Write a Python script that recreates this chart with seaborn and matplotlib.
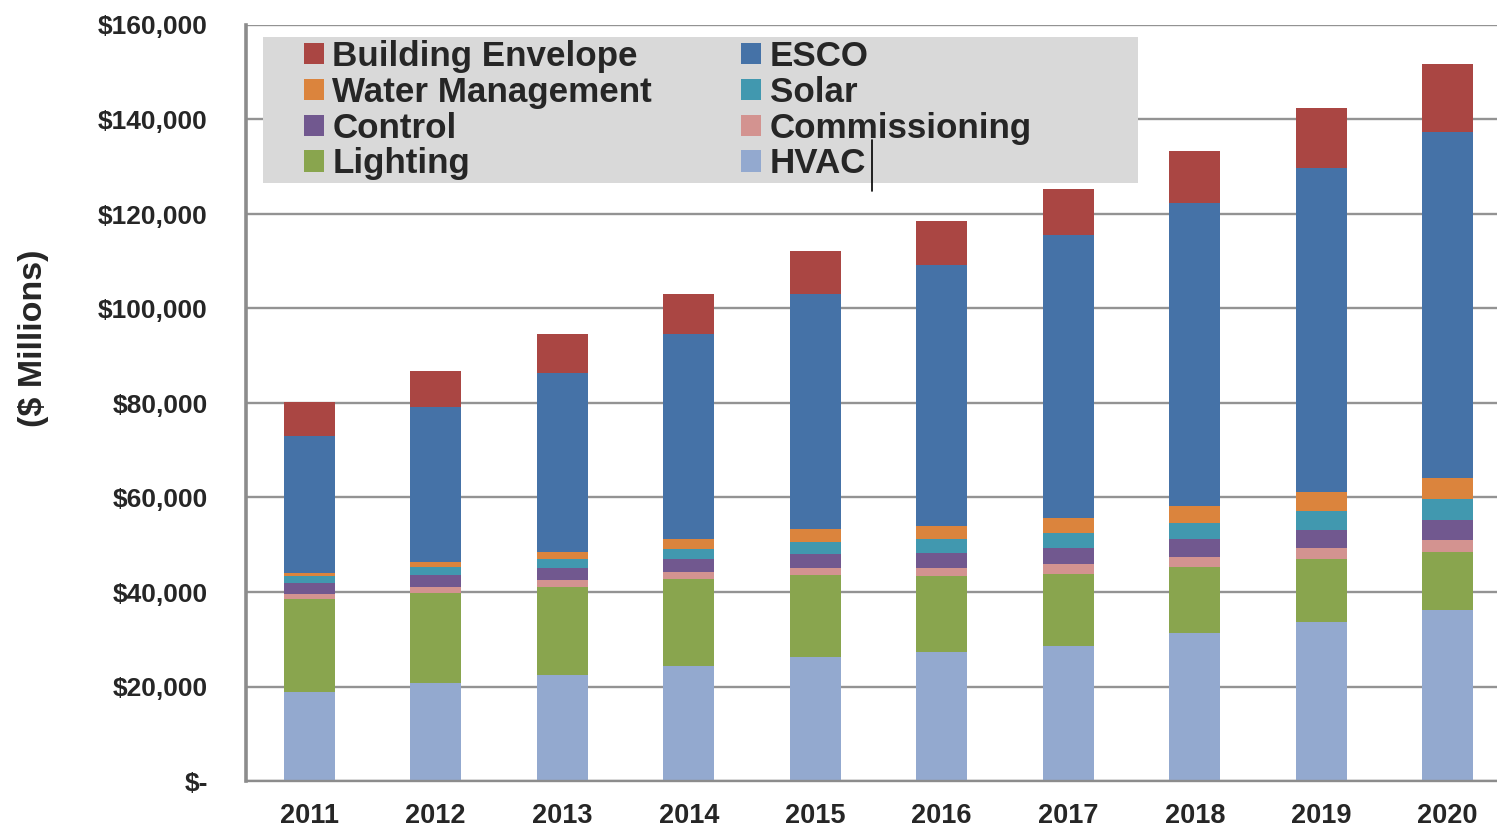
import matplotlib
matplotlib.use("Agg")
import matplotlib.pyplot as plt
import seaborn as sns
import pandas as pd
from matplotlib.patches import Rectangle, Patch
from matplotlib.lines import Line2D
from matplotlib.font_manager import FontProperties

# ---------------- data ----------------
years = ["2011", "2012", "2013", "2014", "2015", "2016", "2017", "2018", "2019", "2020"]
hvac = [18900, 20800, 22430, 24410, 26300, 27320, 28660, 31380, 33550, 36110]
lighting = [19550, 19040, 18690, 18270, 17200, 16100, 15110, 13870, 13520, 12430]
commissioning = [1100, 1150, 1410, 1540, 1490, 1730, 2060, 2070, 2170, 2470]
control = [2250, 2540, 2540, 2820, 3070, 3140, 3470, 3800, 3840, 4250]
solar = [1600, 1690, 1840, 2120, 2590, 2900, 3220, 3550, 4050, 4440]
water_management = [700, 1060, 1610, 1980, 2590, 2750, 3060, 3550, 3950, 4340]
esco = [28900, 32790, 37750, 43380, 49780, 55200, 59870, 64080, 68570, 73310]
building_envelope = [7130, 7680, 8250, 8530, 9110, 9430, 9910, 11000, 12730, 14310]

y_ticks = [0, 20000, 40000, 60000, 80000, 100000, 120000, 140000, 160000]
y_tick_labels = ["$-", "$20,000", "$40,000", "$60,000", "$80,000", "$100,000",
                 "$120,000", "$140,000", "$160,000"]
y_label = "($ Millions)"

# stack order bottom -> top
series = [
    ("HVAC", hvac, "#93A9CF"),
    ("Lighting", lighting, "#89A54E"),
    ("Commissioning", commissioning, "#D39390"),
    ("Control", control, "#71588F"),
    ("Solar", solar, "#4198AF"),
    ("Water Management", water_management, "#DB843D"),
    ("ESCO", esco, "#4572A7"),
    ("Building Envelope", building_envelope, "#AA4643"),
]
legend_order = ["Building Envelope", "Water Management", "Control", "Lighting",
                "ESCO", "Solar", "Commissioning", "HVAC"]

# ---------------- style ----------------
sns.set_style("white")
plt.rcParams["font.family"] = ["Liberation Sans", "DejaVu Sans"]
plt.rcParams["font.weight"] = "bold"

W, H = 1497, 830
fig = plt.figure(figsize=(W / 100, H / 100), dpi=100)
fig.patch.set_facecolor("white")
ax = fig.add_axes([246 / W, 49 / H, (W - 246) / W, (781 - 25) / H])
ax.set_facecolor("white")

df = pd.DataFrame({"Year": years})
running = [0] * len(years)
cum_cols = []
for name, vals, color in series:
    running = [a + b for a, b in zip(running, vals)]
    df[name] = running
    cum_cols.append((name, color))

# draw cumulative totals from top layer down so each lower layer overlays
for name, color in reversed(cum_cols):
    sns.barplot(data=df, x="Year", y=name, order=years, color=color,
                width=0.4, saturation=1, errorbar=None, linewidth=0,
                ax=ax, zorder=2)

n = len(years)
ax.set_xlim(-0.5, -0.5 + (W - 246) / 126.5)
ax.set_ylim(0, 160000)

ax.set_yticks(y_ticks)
ax.set_yticklabels(y_tick_labels, fontsize=19, fontweight="bold")
ax.set_xticks(range(n))
ax.set_xticklabels(years, fontsize=19.5, fontweight="bold")
ax.set_xticks([i - 0.5 for i in range(n)], minor=True)
ax.tick_params(axis="x", which="major", length=0, pad=16)
ax.tick_params(axis="x", which="minor", length=7, width=1.5, color="#8c8c8c", direction="out")
ax.tick_params(axis="y", which="major", length=7.5, width=1.5, color="#8c8c8c",
               direction="out", pad=20)

ax.set_axisbelow(True)
ax.yaxis.grid(True, color="#939393", linewidth=1.7)
ax.xaxis.grid(False)
for s in ["top", "right"]:
    ax.spines[s].set_visible(False)
ax.spines["left"].set_color("#8c8c8c")
ax.spines["left"].set_linewidth(2.6)
ax.spines["bottom"].set_color("#8c8c8c")
ax.spines["bottom"].set_linewidth(1.7)

ax.set_xlabel("")
ax.set_ylabel(y_label, fontsize=24.5, fontweight="bold", va="center")
ax.yaxis.set_label_coords((34 - 246) / (W - 246), (781 - 338) / (781 - 25))

# legend background box
box = Rectangle((263 / W, (H - 183) / H), (1138 - 263) / W, (183 - 37) / H,
                transform=fig.transFigure, facecolor="#D9D9D9", edgecolor="none",
                zorder=4, clip_on=False)
ax.add_patch(box)

color_map = {name: color for name, _, color in series}
handles = [Patch(facecolor=color_map[nm], edgecolor="none") for nm in legend_order]
leg = ax.legend(handles, legend_order, ncol=2, loc="upper left",
                bbox_to_anchor=(304 / W, (H - 40) / H), bbox_transform=fig.transFigure,
                frameon=False, borderpad=0, borderaxespad=0,
                handlelength=0.56, handleheight=0.56, handletextpad=0.25,
                columnspacing=2.55, labelspacing=0.08,
                prop=FontProperties(family="Liberation Sans", weight="bold", size=25.2))
leg.set_zorder(5)

# thin vertical cursor mark present in the original image
fig.add_artist(Line2D([871.5 / W, 871.5 / W], [(H - 140) / H, (H - 191) / H],
                      transform=fig.transFigure, color="black", linewidth=1.2))

fig.savefig("out.png", dpi=100, facecolor="white")
